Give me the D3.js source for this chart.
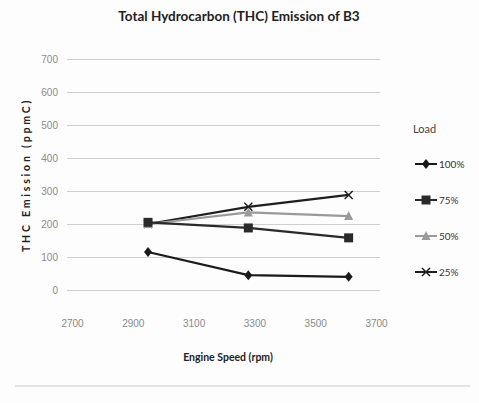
<!DOCTYPE html>
<html>
<head>
<meta charset="utf-8">
<script src="https://cdn.jsdelivr.net/npm/d3@7"></script>
<style>
  html, body { margin: 0; padding: 0; background: #fdfdfd; }
  svg { display: block; font-family: Lato, "Liberation Sans", sans-serif; }
</style>
</head>
<body>
<svg id="chart" width="479" height="403"></svg>
<script>
// Engine speed (rpm) at which each load case was measured
const speeds = [2950, 3280, 3610];

// THC emission (ppmC) per load case
const load100 = [115, 45, 40];
const load75 = [205, 188, 158];
const load50 = [200, 235, 224];
const load25 = [200, 252, 288];

const seriesNames = ["100%", "75%", "50%", "25%"];
const xTicks = [2700, 2900, 3100, 3300, 3500, 3700];
const yTicks = [0, 100, 200, 300, 400, 500, 600, 700];

const series = [
  { name: seriesNames[0], values: load100, color: "#1a1a1a", marker: "diamond" },
  { name: seriesNames[1], values: load75, color: "#2a2a2a", marker: "square" },
  { name: seriesNames[2], values: load50, color: "#9a9a9a", marker: "triangle" },
  { name: seriesNames[3], values: load25, color: "#1e1e1e", marker: "cross" }
];

const svg = d3.select("#chart");

const x = d3.scaleLinear().domain([2700, 3700]).range([72, 376]);
const y = d3.scaleLinear().domain([0, 700]).range([290, 59]);

// horizontal gridlines
const yAxis = d3.axisLeft(y).tickValues(yTicks).tickSize(-(380 - 67)).tickPadding(9);
const gy = svg.append("g").attr("transform", "translate(67,0)").call(yAxis);
gy.select(".domain").remove();
gy.selectAll(".tick line").attr("stroke", "#cfcfcf").attr("stroke-width", 1);
gy.selectAll(".tick text").attr("fill", "#8a8a8a").attr("font-size", 10);

// x tick labels (no axis line)
const xAxis = d3.axisBottom(x).tickValues(xTicks).tickSize(0).tickPadding(0).tickFormat(d3.format("d"));
const gx = svg.append("g").attr("transform", "translate(0,320)").call(xAxis);
gx.select(".domain").remove();
gx.selectAll(".tick text").attr("fill", "#8a8a8a").attr("font-size", 10);

// lines
const line = d3.line().x((d, i) => x(speeds[i])).y(d => y(d));
svg.append("g").selectAll("path.series")
  .data(series.slice().reverse())
  .join("path")
  .attr("class", "series")
  .attr("d", d => line(d.values))
  .attr("fill", "none")
  .attr("stroke", d => d.color)
  .attr("stroke-width", 2.2);

function drawMarker(g, type, color) {
  if (type === "diamond") {
    g.append("path").attr("d", "M0,-5L4,0L0,5L-4,0Z").attr("fill", color);
  } else if (type === "square") {
    g.append("rect").attr("x", -4.5).attr("y", -4.5).attr("width", 9).attr("height", 9).attr("fill", color);
  } else if (type === "triangle") {
    g.append("path").attr("d", "M0,-5L4.5,4L-4.5,4Z").attr("fill", color);
  } else if (type === "cross") {
    g.append("path").attr("d", "M-4,-4L4,4M-4,4L4,-4").attr("stroke", color).attr("stroke-width", 1.5);
  }
}

series.slice().reverse().forEach(s => {
  s.values.forEach((v, i) => {
    const g = svg.append("g").attr("transform", `translate(${x(speeds[i])},${y(v)})`);
    drawMarker(g, s.marker, s.color);
  });
});

// title
svg.append("text").attr("x", 239).attr("y", 21).attr("text-anchor", "middle")
  .attr("font-size", 13.5).attr("font-weight", "bold").attr("fill", "#222")
  .text("Total Hydrocarbon (THC) Emission of B3");

// axis titles
svg.append("text").attr("x", 228).attr("y", 361).attr("text-anchor", "middle")
  .attr("font-size", 10.5).attr("font-weight", "bold").attr("fill", "#222")
  .text("Engine Speed (rpm)");

svg.append("text").attr("transform", "translate(30,175) rotate(-90)").attr("text-anchor", "middle")
  .attr("font-size", 10.5).attr("font-weight", "bold").attr("fill", "#222").attr("letter-spacing", 2.8)
  .text("THC Emission (ppmC)");

// legend
svg.append("text").attr("x", 413).attr("y", 133).attr("font-size", 11).attr("fill", "#444").text("Load");
const lg = svg.append("g").selectAll("g").data(series).join("g")
  .attr("transform", (d, i) => `translate(415,${164 + i * 36})`);
lg.append("line").attr("x1", 0).attr("x2", 22).attr("stroke", d => d.color).attr("stroke-width", 2);
lg.each(function(d) {
  const g = d3.select(this).append("g").attr("transform", "translate(11,0)");
  drawMarker(g, d.marker, d.color);
});
lg.append("text").attr("x", 24).attr("y", 4).attr("font-size", 10).attr("fill", "#333").text(d => d.name);

// faint rule along the bottom
svg.append("line").attr("x1", 15).attr("x2", 470).attr("y1", 386).attr("y2", 386)
  .attr("stroke", "#d8d8d8").attr("stroke-width", 1.5);
</script>
</body>
</html>
